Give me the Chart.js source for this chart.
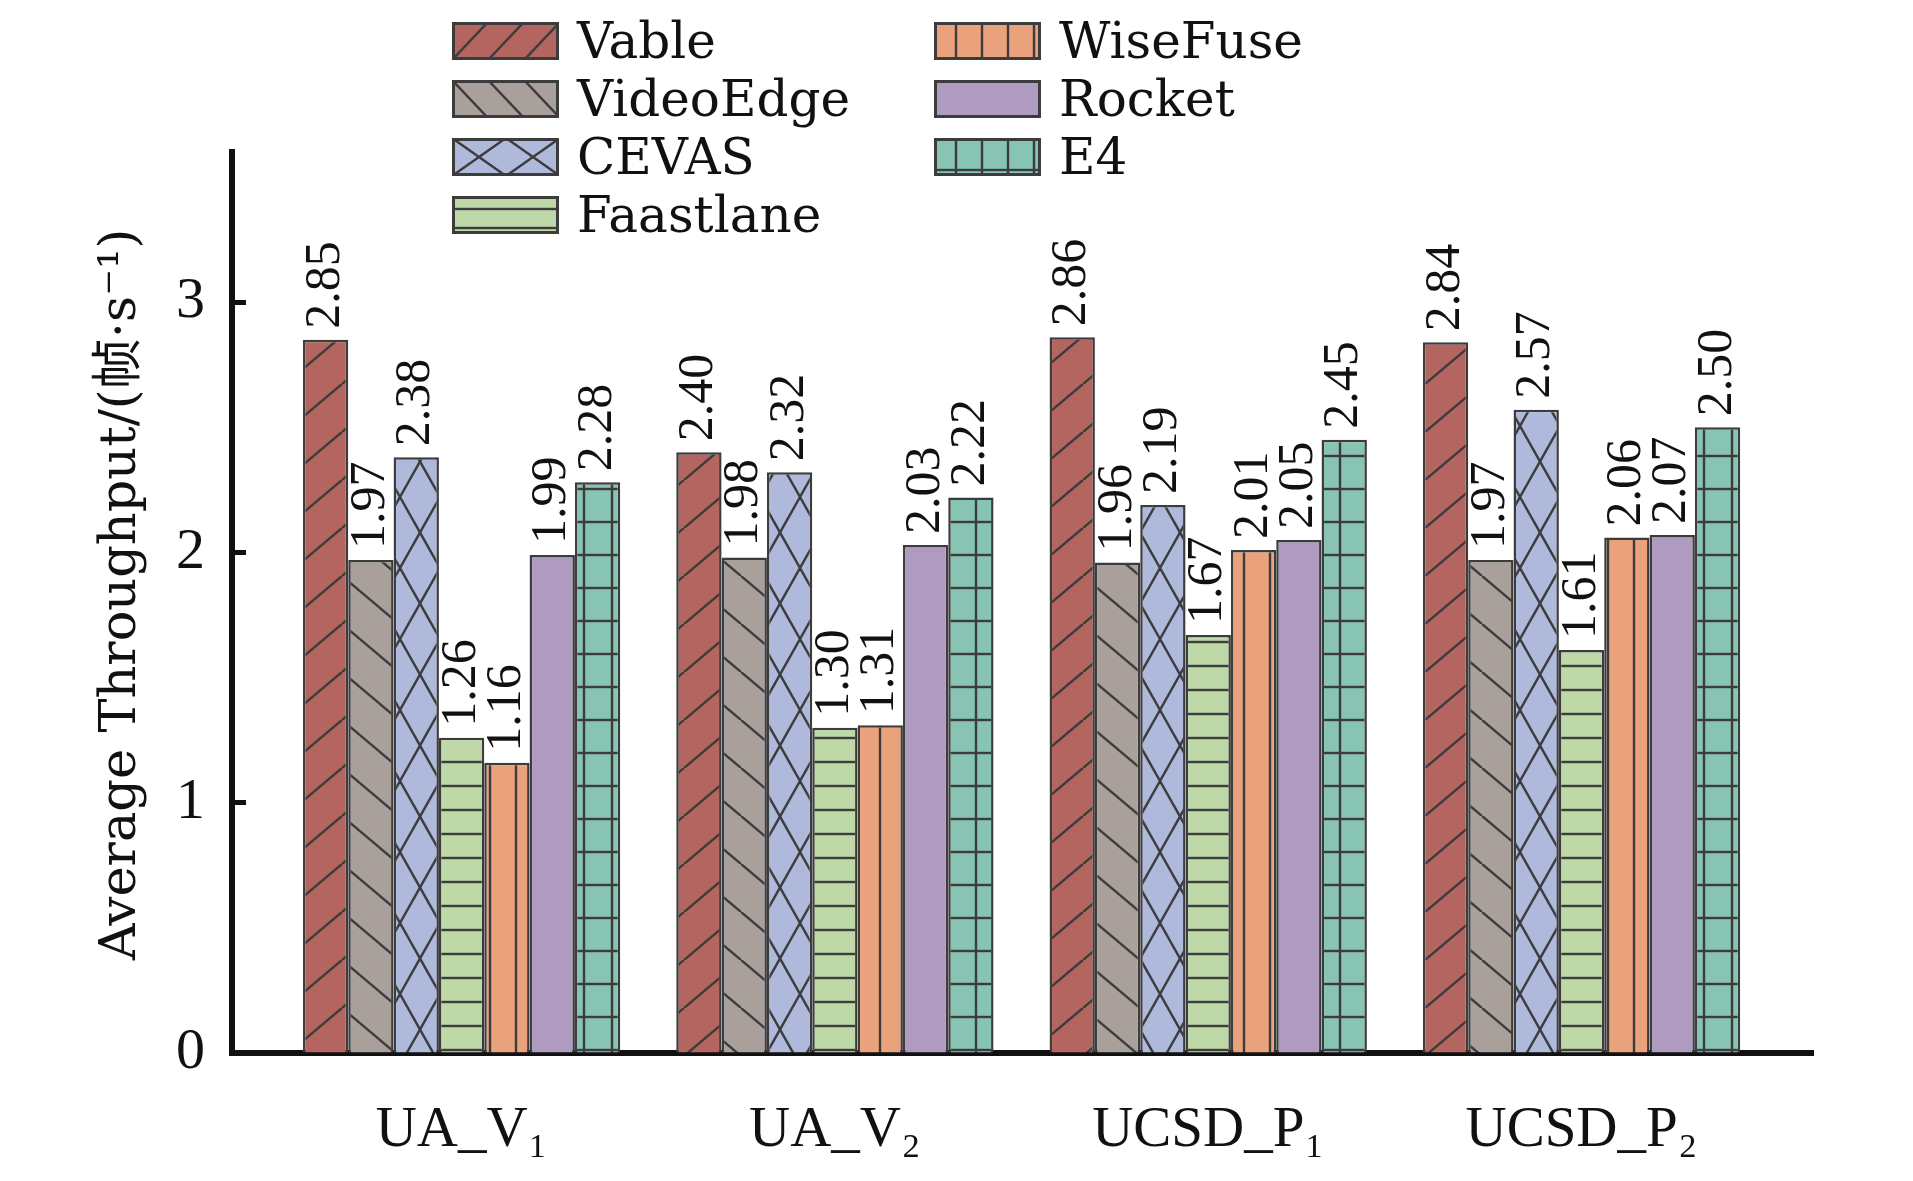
<!DOCTYPE html>
<html><head><meta charset="utf-8">
<script src="https://cdn.jsdelivr.net/npm/chart.js@4.4.1/dist/chart.umd.min.js"></script>
<style>html,body{margin:0;padding:0;background:#fff;}canvas{display:block;}</style>
</head><body>
<canvas id="c" width="1913" height="1181"></canvas>
<script>
// ---------- data ----------
const categories = ['UA_V\u2081', 'UA_V\u2082', 'UCSD_P\u2081', 'UCSD_P\u2082'];
const seriesNames = ['Vable', 'VideoEdge', 'CEVAS', 'Faastlane', 'WiseFuse', 'Rocket', 'E4'];
const vable     = [2.85, 2.40, 2.86, 2.84];
const videoEdge = [1.97, 1.98, 1.96, 1.97];
const cevas     = [2.38, 2.32, 2.19, 2.57];
const faastlane = [1.26, 1.30, 1.67, 1.61];
const wiseFuse  = [1.16, 1.31, 2.01, 2.06];
const rocket    = [1.99, 2.03, 2.05, 2.07];
const e4        = [2.28, 2.22, 2.45, 2.50];
const yTicks = [0, 1, 2, 3];
const yTitle = ' Average Throughput/(帧·s⁻¹)';

// ---------- styles ----------
const SERIF = "'Liberation Serif', 'Noto Sans CJK SC', serif";
const WIDE_SERIF = "'DejaVu Serif', 'Noto Sans CJK SC', serif";
const INK = '#111111';
const LINE = '#3c3c3c';
const fills = ['#B5655F', '#A9A09C', '#AEB9DC', '#BED8A8', '#E9A27B', '#AF9BBF', '#88C4B4'];
const kinds = ['fwd', 'back', 'cross', 'horiz', 'vert', 'none', 'grid'];
const barTiles = {fwd: [57, 48], back: [57, 48], cross: [40, 71], horiz: [20, 24], vert: [26, 20], grid: [28, 33], none: [10, 10]};
const legTiles = {fwd: [36, 38], back: [36, 38], cross: [54, 38], horiz: [20, 19], vert: [26, 20], grid: [26, 38], none: [10, 10]};

function makePattern(fill, kind, size) {
  const [w, h] = size;
  const c = document.createElement('canvas');
  c.width = w; c.height = h;
  const g = c.getContext('2d');
  g.fillStyle = fill; g.fillRect(0, 0, w, h);
  g.strokeStyle = LINE; g.lineWidth = 2.4;
  const seg = (x1, y1, x2, y2) => { g.beginPath(); g.moveTo(x1, y1); g.lineTo(x2, y2); g.stroke(); };
  if (kind === 'fwd' || kind === 'cross') for (const d of [-w, 0, w]) seg(d, h, d + w, 0);
  if (kind === 'back' || kind === 'cross') for (const d of [-w, 0, w]) seg(d, 0, d + w, h);
  if (kind === 'horiz' || kind === 'grid') seg(0, h - 6, w, h - 6);
  if (kind === 'vert' || kind === 'grid') seg(w - 4, 0, w - 4, h);
  const ctx = document.createElement('canvas').getContext('2d');
  return ctx.createPattern(c, 'repeat');
}

const seriesValues = [vable, videoEdge, cevas, faastlane, wiseFuse, rocket, e4];
const datasets = seriesNames.map((name, s) => ({
  label: name,
  data: seriesValues[s].map((v, i) => ({x: i, y: v})),
  backgroundColor: makePattern(fills[s], kinds[s], barTiles[kinds[s]]),
  borderColor: LINE,
  borderWidth: 2.5,
  barPercentage: 1.0,
  categoryPercentage: 0.85
}));

// ---------- plugins ----------
const valueLabels = {
  id: 'valueLabels',
  afterDatasetsDraw(chart) {
    const ctx = chart.ctx;
    ctx.save();
    ctx.font = '50px ' + SERIF;
    ctx.fillStyle = INK;
    ctx.textAlign = 'left';
    ctx.textBaseline = 'middle';
    chart.data.datasets.forEach((ds, s) => {
      chart.getDatasetMeta(s).data.forEach((el, i) => {
        ctx.save();
        ctx.translate(el.x, el.y - 11);
        ctx.rotate(-Math.PI / 2);
        ctx.fillText(ds.data[i].y.toFixed(2), 0, 0);
        ctx.restore();
      });
    });
    ctx.restore();
  }
};

const gridLegend = {
  id: 'gridLegend',
  afterDraw(chart) {
    const ctx = chart.ctx;
    const colX = [452, 934], top0 = 22, pitch = 58, bw = 107, bh = 38;
    ctx.save();
    ctx.font = '50px ' + WIDE_SERIF;
    ctx.textAlign = 'left';
    ctx.textBaseline = 'middle';
    chart.data.datasets.forEach((ds, s) => {
      const col = s < 4 ? 0 : 1, row = s < 4 ? s : s - 4;
      const x = colX[col], y = top0 + row * pitch;
      ctx.save();
      ctx.translate(x, y);
      ctx.fillStyle = makePattern(fills[s], kinds[s], legTiles[kinds[s]]);
      ctx.fillRect(0, 0, bw, bh);
      ctx.strokeStyle = LINE; ctx.lineWidth = 3;
      ctx.strokeRect(1.5, 1.5, bw - 3, bh - 3);
      ctx.restore();
      ctx.fillStyle = INK;
      ctx.fillText(ds.label, x + bw + 18, y + bh / 2 + 4);
    });
    ctx.restore();
  }
};

new Chart(document.getElementById('c'), {
  type: 'bar',
  data: {datasets},
  options: {
    responsive: false,
    devicePixelRatio: 1,
    animation: false,
    layout: {padding: {left: 0, right: 100, top: 152, bottom: 0}},
    plugins: {legend: {display: false}, tooltip: {enabled: false}},
    scales: {
      x: {
        type: 'linear',
        offset: false,
        min: -0.615,
        max: 3.62,
        afterBuildTicks: (sc) => { sc.ticks = categories.map((_, i) => ({value: i})); },
        afterFit: (sc) => { sc.height = 128; },
        ticks: {
          autoSkip: false, maxRotation: 0, padding: 36,
          color: INK, font: {family: SERIF, size: 57},
          callback: (v) => categories[v] ?? ''
        },
        grid: {display: false},
        border: {display: true, width: 6, color: INK}
      },
      y: {
        min: 0,
        max: 3.6,
        afterBuildTicks: (sc) => { sc.ticks = yTicks.map(v => ({value: v})); },
        afterFit: (sc) => { sc.width = 232; },
        ticks: {padding: 41, color: INK, font: {family: SERIF, size: 58}},
        grid: {drawOnChartArea: false, drawTicks: true, tickLength: -14, tickWidth: 5, tickColor: INK, color: INK},
        border: {display: true, width: 6, color: INK},
        title: {display: true, text: yTitle, color: INK, font: {family: WIDE_SERIF, size: 51}, padding: {top: 91, bottom: 0}}
      }
    }
  },
  plugins: [valueLabels, gridLegend]
});
</script>
</body></html>
